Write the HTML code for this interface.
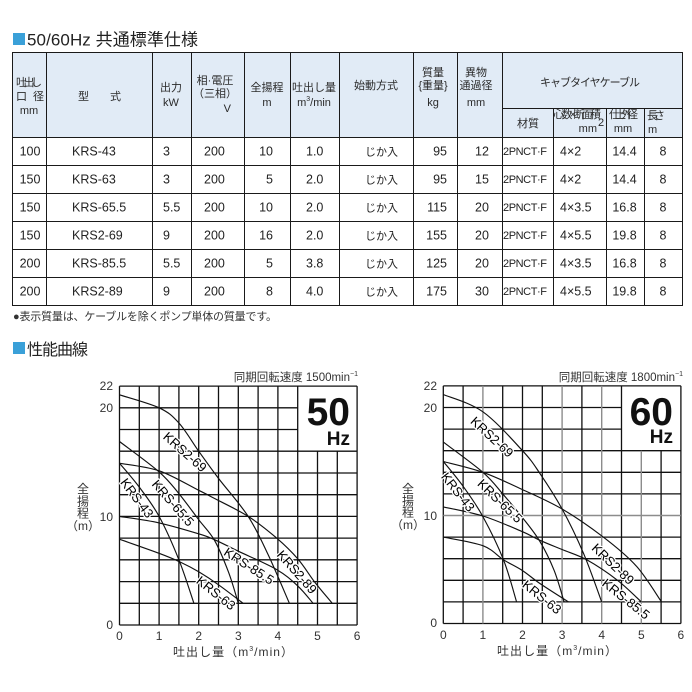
<!DOCTYPE html>
<html><head><meta charset="utf-8">
<style>
html,body{margin:0;padding:0;background:#fff;}
svg{display:block;font-family:"Liberation Sans","Noto Sans CJK JP",sans-serif;}
.c{fill:none;stroke:#111;stroke-width:1.15;stroke-linejoin:round;}
.g{fill:none;stroke:#111;stroke-width:1.3;}
.gg{fill:none;stroke:#8c8c8c;stroke-width:1.4;}
.tb{fill:none;stroke:#1a1a1a;stroke-width:1;}
.h{font-size:11px;fill:#2a2a2a;}
.b{font-size:12.5px;fill:#222;}
.lb{font-size:13px;fill:#000;paint-order:stroke;stroke:#fff;stroke-width:2.5px;stroke-linejoin:round;}
.tk{font-size:12px;fill:#333;}
</style></head><body>
<svg width="692" height="692" viewBox="0 0 692 692" xmlns="http://www.w3.org/2000/svg">
<rect width="692" height="692" fill="#fff"/>
<!-- Title 1 -->
<rect x="13" y="33" width="12" height="12" fill="#3aa0d8"/>
<text x="27" y="45.5" font-size="17" fill="#222" textLength="171">50/60Hz 共通標準仕様</text>

<!-- Table -->
<rect x="12.5" y="52.5" width="670" height="84.5" fill="#e1ebf6"/>
<path class="tb" d="M12.5 52.5H682.5V305.5H12.5Z M12.5 137.5H682.5 M12.5 165.5H682.5 M12.5 193.5H682.5 M12.5 221.5H682.5 M12.5 249.5H682.5 M12.5 277.5H682.5 M502.5 108.5H682.5
M46.5 52.5V305.5 M152.5 52.5V305.5 M191.5 52.5V305.5 M244.5 52.5V305.5 M290.5 52.5V305.5 M339.5 52.5V305.5 M413.5 52.5V305.5 M457.5 52.5V305.5 M502.5 52.5V305.5
M553.5 108.5V305.5 M606.5 108.5V305.5 M644.5 108.5V305.5"/>
<!-- header text -->
<text class="h" x="16" y="86" font-size="9.5" textLength="26">吐出し</text>
<text class="h" x="16" y="100" font-size="9.5">口</text>
<text class="h" x="33" y="100" font-size="9.5">径</text>
<text class="h" x="29" y="114" text-anchor="middle" font-size="10.5">mm</text>
<text class="h" x="78" y="100">型</text>
<text class="h" x="110" y="100">式</text>
<text class="h" x="171" y="91" text-anchor="middle">出力</text>
<text class="h" x="171" y="106" text-anchor="middle" font-size="12">kW</text>
<text class="h" x="215" y="84" text-anchor="middle">相·電圧</text>
<text class="h" x="215" y="97" text-anchor="middle">（三相）</text>
<text class="h" x="231" y="112" text-anchor="end" font-size="12">V</text>
<text class="h" x="267" y="91" text-anchor="middle">全揚程</text>
<text class="h" x="267" y="106" text-anchor="middle" font-size="12">m</text>
<text class="h" x="314" y="91" text-anchor="middle">吐出し量</text>
<text class="h" x="314" y="106" text-anchor="middle" font-size="12">m<tspan font-size="7" dy="-5">3</tspan><tspan dy="5">/min</tspan></text>
<text class="h" x="376" y="89" text-anchor="middle">始動方式</text>
<text class="h" x="433" y="76" text-anchor="middle">質量</text>
<text class="h" x="433" y="89" text-anchor="middle" font-size="10">{重量}</text>
<text class="h" x="433" y="106" text-anchor="middle" font-size="13">kg</text>
<text class="h" x="476" y="76" text-anchor="middle">異物</text>
<text class="h" x="476" y="89" text-anchor="middle">通過径</text>
<text class="h" x="476" y="106" text-anchor="middle" font-size="12">mm</text>
<text class="h" x="540" y="86" textLength="100">キャブタイヤケーブル</text>
<text class="h" x="528" y="127" text-anchor="middle">材質</text>
<text class="h" x="553" y="118" font-size="8.5" textLength="48">心数×断面積</text>
<text class="h" x="597" y="132" text-anchor="end" font-size="10">mm</text>
<text class="h" x="598" y="126" font-size="6">2</text>
<text class="h" x="609" y="118" font-size="9.5" textLength="29">仕上外径</text>
<text class="h" x="623" y="132" text-anchor="middle" font-size="10">mm</text>
<text class="h" x="647" y="119" textLength="18">長さ</text>
<text class="h" x="648" y="133" font-size="12">m</text>

<!-- body rows -->
<g class="b">
<text x="30" y="155.5" text-anchor="middle">100</text>
<text x="30" y="183.5" text-anchor="middle">150</text>
<text x="30" y="211.5" text-anchor="middle">150</text>
<text x="30" y="239.5" text-anchor="middle">150</text>
<text x="30" y="267.5" text-anchor="middle">200</text>
<text x="30" y="295.5" text-anchor="middle">200</text>

<text x="72" y="155.5">KRS-43</text>
<text x="72" y="183.5">KRS-63</text>
<text x="72" y="211.5">KRS-65.5</text>
<text x="72" y="239.5">KRS2-69</text>
<text x="72" y="267.5">KRS-85.5</text>
<text x="72" y="295.5">KRS2-89</text>

<text x="163" y="155.5">3</text>
<text x="163" y="183.5">3</text>
<text x="163" y="211.5">5.5</text>
<text x="163" y="239.5">9</text>
<text x="163" y="267.5">5.5</text>
<text x="163" y="295.5">9</text>

<text x="204" y="155.5">200</text>
<text x="204" y="183.5">200</text>
<text x="204" y="211.5">200</text>
<text x="204" y="239.5">200</text>
<text x="204" y="267.5">200</text>
<text x="204" y="295.5">200</text>

<text x="273" y="155.5" text-anchor="end">10</text>
<text x="273" y="183.5" text-anchor="end">5</text>
<text x="273" y="211.5" text-anchor="end">10</text>
<text x="273" y="239.5" text-anchor="end">16</text>
<text x="273" y="267.5" text-anchor="end">5</text>
<text x="273" y="295.5" text-anchor="end">8</text>

<text x="306" y="155.5">1.0</text>
<text x="306" y="183.5">2.0</text>
<text x="306" y="211.5">2.0</text>
<text x="306" y="239.5">2.0</text>
<text x="306" y="267.5">3.8</text>
<text x="306" y="295.5">4.0</text>

<text x="365" y="155.5" font-size="11">じか入</text>
<text x="365" y="183.5" font-size="11">じか入</text>
<text x="365" y="211.5" font-size="11">じか入</text>
<text x="365" y="239.5" font-size="11">じか入</text>
<text x="365" y="267.5" font-size="11">じか入</text>
<text x="365" y="295.5" font-size="11">じか入</text>

<text x="447" y="155.5" text-anchor="end">95</text>
<text x="447" y="183.5" text-anchor="end">95</text>
<text x="447" y="211.5" text-anchor="end">115</text>
<text x="447" y="239.5" text-anchor="end">155</text>
<text x="447" y="267.5" text-anchor="end">125</text>
<text x="447" y="295.5" text-anchor="end">175</text>

<text x="482" y="155.5" text-anchor="middle">12</text>
<text x="482" y="183.5" text-anchor="middle">15</text>
<text x="482" y="211.5" text-anchor="middle">20</text>
<text x="482" y="239.5" text-anchor="middle">20</text>
<text x="482" y="267.5" text-anchor="middle">20</text>
<text x="482" y="295.5" text-anchor="middle">30</text>

<text x="503" y="155" font-size="11" textLength="44">2PNCT·F</text>
<text x="503" y="183" font-size="11" textLength="44">2PNCT·F</text>
<text x="503" y="211" font-size="11" textLength="44">2PNCT·F</text>
<text x="503" y="239" font-size="11" textLength="44">2PNCT·F</text>
<text x="503" y="267" font-size="11" textLength="44">2PNCT·F</text>
<text x="503" y="295" font-size="11" textLength="44">2PNCT·F</text>

<text x="560" y="155.5">4×2</text>
<text x="560" y="183.5">4×2</text>
<text x="560" y="211.5">4×3.5</text>
<text x="560" y="239.5">4×5.5</text>
<text x="560" y="267.5">4×3.5</text>
<text x="560" y="295.5">4×5.5</text>

<text x="624.5" y="155.5" text-anchor="middle">14.4</text>
<text x="624.5" y="183.5" text-anchor="middle">14.4</text>
<text x="624.5" y="211.5" text-anchor="middle">16.8</text>
<text x="624.5" y="239.5" text-anchor="middle">19.8</text>
<text x="624.5" y="267.5" text-anchor="middle">16.8</text>
<text x="624.5" y="295.5" text-anchor="middle">19.8</text>

<text x="663" y="155.5" text-anchor="middle">8</text>
<text x="663" y="183.5" text-anchor="middle">8</text>
<text x="663" y="211.5" text-anchor="middle">8</text>
<text x="663" y="239.5" text-anchor="middle">8</text>
<text x="663" y="267.5" text-anchor="middle">8</text>
<text x="663" y="295.5" text-anchor="middle">8</text>
</g>
<text x="13" y="320" font-size="11" fill="#333" textLength="264">●表示質量は、ケーブルを除くポンプ単体の質量です。</text>

<!-- Title 2 -->
<rect x="13" y="342" width="12" height="12" fill="#3aa0d8"/>
<text x="27" y="355" font-size="16" fill="#222" textLength="61">性能曲線</text>

<!-- ================= Chart 1 (50Hz) ================= -->
<path class="g" d="M119.5 386.1V625 M139.3 386.1V625 M159.1 386.1V625 M178.9 386.1V625 M198.7 386.1V625 M218.5 386.1V625 M238.3 386.1V625 M258.1 386.1V625 M277.9 386.1V625 M297.7 386.1V625 M317.5 451.2V625 M337.3 451.2V625 M357.1 386.1V625
M119.5 625H357.1 M119.5 603.3H357.1 M119.5 581.6H357.1 M119.5 559.8H357.1 M119.5 538.1H357.1 M119.5 516.4H357.1 M119.5 494.7H357.1 M119.5 473H357.1 M119.5 451.2H357.1 M119.5 429.5H297.7 M119.5 407.8H297.7 M119.5 386.1H357.1"/>
<polyline class="c" points="119.5,394.8 159.1,407.8 178.9,423 198.7,451.2 218.5,478.4 248.2,516.4 268,554.4 289.4,603.3"/>
<polyline class="c" points="119.5,441.5 159.1,471.9 178.9,493.6 198.7,519.7 214.5,540.3 228.4,571.8 238.3,603.3"/>
<polyline class="c" points="119.5,463.2 159.1,470.8 198.7,490.3 213.4,497.9 248.2,516.4 276.7,538.1 297.7,558.8 315.1,582.6 332.2,603.3"/>
<polyline class="c" points="119.5,516.4 159.1,522.9 198.7,533.8 213.4,539.2 238.3,551.2 276.7,569.6 297.7,585.9 313.1,603.3"/>
<polyline class="c" points="119.5,539.2 159.1,553.3 180.1,562 198.7,571.8 218.5,584.8 243.1,603.3"/>
<polyline class="c" points="119.5,463.2 139.3,487.1 159.1,516.4 178.9,559.8 193.9,603.3"/>
<g class="lb" text-anchor="middle">
<text transform="translate(185,452) rotate(41.5)" dy="4.5">KRS2-69</text>
<text transform="translate(173,503) rotate(49)" dy="4.5">KRS-65.5</text>
<text transform="translate(137,498) rotate(53)" dy="4.5">KRS-43</text>
<text transform="translate(249,566) rotate(33)" dy="4.5">KRS-85.5</text>
<text transform="translate(216,593) rotate(38.6)" dy="4.5">KRS-63</text>
<text transform="translate(297,572) rotate(48.6)" dy="4.5">KRS2-89</text>
</g>
<text x="350" y="425" text-anchor="end" font-size="39" font-weight="bold" fill="#111">50</text>
<text x="350" y="445" text-anchor="end" font-size="19" font-weight="bold" fill="#111">Hz</text>
<text x="358" y="381" text-anchor="end" font-size="11.5" fill="#333">同期回転速度 1500min<tspan font-size="7" dy="-5">−1</tspan></text>
<g class="tk" text-anchor="end">
<text x="113" y="390">22</text><text x="113" y="412">20</text><text x="113" y="521">10</text><text x="113" y="629">0</text>
</g>
<g class="tk" text-anchor="middle">
<text x="119.5" y="640">0</text><text x="159.1" y="640">1</text><text x="198.7" y="640">2</text><text x="238.3" y="640">3</text><text x="277.9" y="640">4</text><text x="317.5" y="640">5</text><text x="357.1" y="640">6</text>
<text x="83" y="493">全</text><text x="83" y="505.5">揚</text><text x="83" y="517.5">程</text><text x="83" y="530">（m）</text>
</g>
<text x="173" y="656" class="tk" textLength="120">吐出し量（m<tspan font-size="7" dy="-5">3</tspan><tspan dy="5">/min）</tspan></text>

<!-- ================= Chart 2 (60Hz) ================= -->
<path class="g" d="M443.3 385.9V623.5 M463.1 385.9V623.5 M502.7 385.9V623.5 M522.5 385.9V623.5 M542.3 385.9V623.5 M581.9 385.9V623.5 M621.5 385.9V623.5 M661.1 450.7V623.5 M680.9 385.9V623.5
M443.3 623.5H680.9 M443.3 601.9H680.9 M443.3 580.3H680.9 M443.3 558.7H680.9 M443.3 537.1H680.9 M443.3 493.9H680.9 M443.3 472.3H680.9 M443.3 450.7H680.9 M443.3 429.1H621.5 M443.3 407.5H621.5 M443.3 385.9H680.9"/>
<path class="gg" d="M482.9 385.9V623.5 M562.1 385.9V623.5 M601.7 385.9V623.5 M641.3 450.7V623.5 M443.3 515.5H680.9"/>
<polyline class="c" points="443.3,394.5 482.9,411.8 522.5,450.7 539.9,473.4 562.1,509 583.5,553.3 601.7,601.9"/>
<polyline class="c" points="443.3,442.1 482.9,472.3 502.7,493.9 522.5,517.7 539.9,541.4 554.2,570.6 564.1,601.9"/>
<polyline class="c" points="443.3,461.5 482.9,472.3 522.5,489.6 562.1,509 603.3,537.1 636.5,566.3 661.5,601.9"/>
<polyline class="c" points="443.3,506.9 482.9,516 522.5,531.7 539.9,540.3 562.1,549.5 586.7,559.8 617.5,580.3 641.3,601.9"/>
<polyline class="c" points="443.3,537.1 482.9,545.7 503.5,559.8 522.5,570.6 539.9,583.5 568.4,601.9"/>
<polyline class="c" points="443.3,461.5 463.1,486.3 482.9,516.6 503.5,559.8 516.6,601.9"/>
<g class="lb" text-anchor="middle">
<text transform="translate(492,437) rotate(42.7)" dy="4.5">KRS2-69</text>
<text transform="translate(500,501) rotate(44)" dy="4.5">KRS-65.5</text>
<text transform="translate(458,492) rotate(52)" dy="4.5">KRS-43</text>
<text transform="translate(542,597) rotate(38.7)" dy="4.5">KRS-63</text>
<text transform="translate(613,564) rotate(43.8)" dy="4.5">KRS2-89</text>
<text transform="translate(626,599) rotate(38.4)" dy="4.5">KRS-85.5</text>
</g>
<text x="673" y="425" text-anchor="end" font-size="39" font-weight="bold" fill="#111">60</text>
<text x="673" y="443" text-anchor="end" font-size="19" font-weight="bold" fill="#111">Hz</text>
<text x="683" y="381" text-anchor="end" font-size="11.5" fill="#333">同期回転速度 1800min<tspan font-size="7" dy="-5">−1</tspan></text>
<g class="tk" text-anchor="end">
<text x="437" y="390">22</text><text x="437" y="412">20</text><text x="437" y="520">10</text><text x="437" y="627">0</text>
</g>
<g class="tk" text-anchor="middle">
<text x="443.3" y="639">0</text><text x="482.9" y="639">1</text><text x="522.5" y="639">2</text><text x="562.1" y="639">3</text><text x="601.7" y="639">4</text><text x="641.3" y="639">5</text><text x="680.9" y="639">6</text>
<text x="408" y="493">全</text><text x="408" y="505">揚</text><text x="408" y="516.5">程</text><text x="408" y="529">（m）</text>
</g>
<text x="497" y="655" class="tk" textLength="120">吐出し量（m<tspan font-size="7" dy="-5">3</tspan><tspan dy="5">/min）</tspan></text>
</svg>
<script>
(function(){
var pls=document.querySelectorAll('polyline.c');
for(var k=0;k<pls.length;k++){
 var pl=pls[k];
 var p=pl.getAttribute('points').trim().split(/\s+/).map(function(s){return s.split(',').map(Number);});
 var d='M'+p[0][0]+','+p[0][1];
 for(var i=0;i<p.length-1;i++){
  var p0=p[i-1]||p[i],p1=p[i],p2=p[i+1],p3=p[i+2]||p[i+1];
  var c1x=p1[0]+(p2[0]-p0[0])/6,c1y=p1[1]+(p2[1]-p0[1])/6;
  var c2x=p2[0]-(p3[0]-p1[0])/6,c2y=p2[1]-(p3[1]-p1[1])/6;
  d+=' C'+c1x.toFixed(1)+','+c1y.toFixed(1)+' '+c2x.toFixed(1)+','+c2y.toFixed(1)+' '+p2[0]+','+p2[1];
 }
 var path=document.createElementNS('http://www.w3.org/2000/svg','path');
 path.setAttribute('d',d);path.setAttribute('class','c');
 pl.parentNode.replaceChild(path,pl);
}
})();
</script>
</body></html>
